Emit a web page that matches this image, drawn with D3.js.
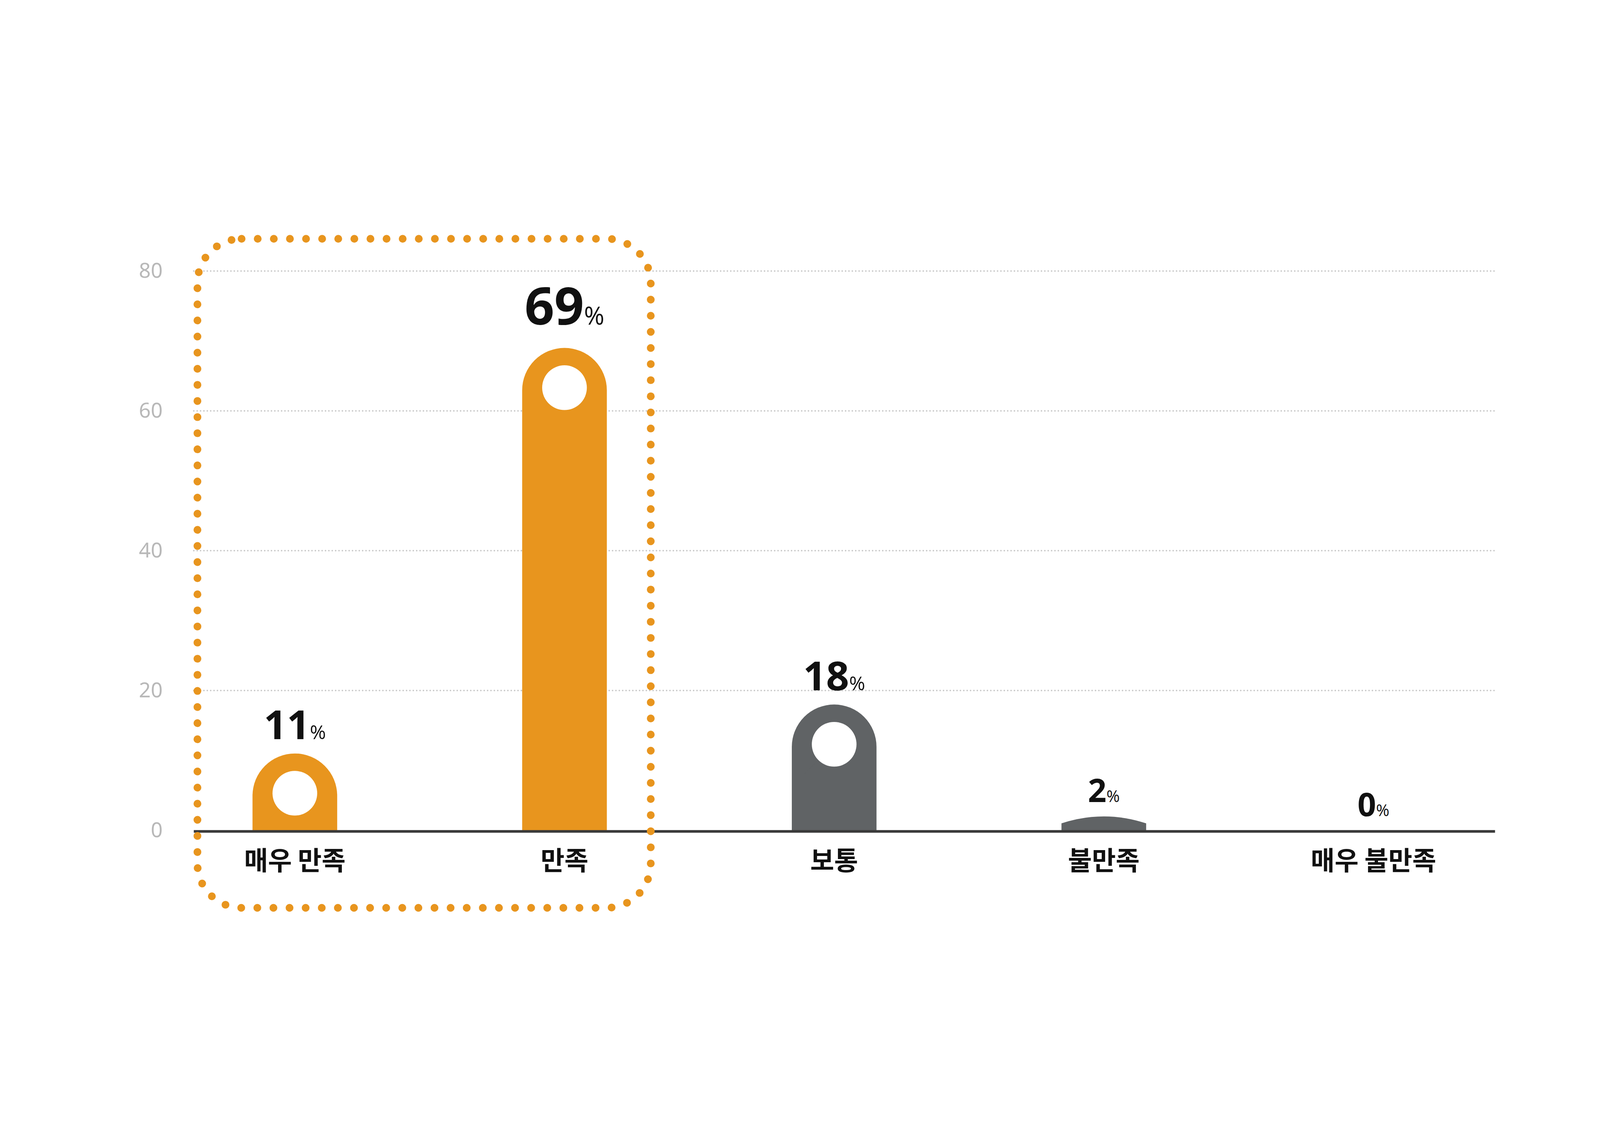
<!DOCTYPE html>
<html>
<head>
<meta charset="utf-8">
<script src="https://cdn.jsdelivr.net/npm/d3@7"></script>
<style>
	html, body { margin: 0; background: #fff; overflow: hidden; }
	svg { display: block; width: 100vw; height: 100vh; font-family: "Noto Sans CJK KR", "Noto Sans", sans-serif; }
</style>
</head>
<body>
<svg id="chart" viewBox="0 0 6159 2895" preserveAspectRatio="xMidYMid meet"></svg>
<script>
// chart data
const categories = ['매우 만족', '만족', '보통', '불만족', '매우 불만족'];
const values = [11, 69, 18, 2, 0];
const highlighted = [true, true, false, false, false];
const yTicks = [0, 20, 40, 60, 80];

const svg = d3.select('#chart');
const orange = '#e8951e';
const grey = '#606365';

const y = d3.scaleLinear().domain([0, 80]).range([2467, 314]);
const x = d3.scalePoint().domain(categories).range([1135, 5287]);
const barW = 326;
const holeR = 86;
const gridX0 = 746, gridX1 = 5755;

// shadow gradient
const grad = svg.append('defs').append('linearGradient')
	.attr('id', 'shade')
	.attr('x1', 1).attr('y1', 0).attr('x2', 0).attr('y2', 1);
grad.append('stop').attr('offset', 0).attr('stop-color', '#000').attr('stop-opacity', 0.22);
grad.append('stop').attr('offset', 1).attr('stop-color', '#000').attr('stop-opacity', 0);

// gridlines
svg.append('g').selectAll('line')
	.data(yTicks.slice(1))
	.join('line')
	.attr('x1', gridX0).attr('x2', gridX1)
	.attr('y1', d => y(d)).attr('y2', d => y(d))
	.attr('stroke', '#c8c8c8')
	.attr('stroke-width', 6)
	.attr('stroke-linecap', 'round')
	.attr('stroke-dasharray', '0 13');

// y axis labels
const yAxis = svg.append('g')
	.attr('transform', `translate(${gridX0 - 120},0)`)
	.call(d3.axisLeft(y).tickValues(yTicks).tickSize(0).tickPadding(0));
yAxis.select('.domain').remove();
yAxis.selectAll('text')
	.attr('font-size', 80)
	.attr('fill', '#b8b8b8')
	.attr('font-family', '"Noto Sans", sans-serif');

// bars
const bars = svg.append('g').selectAll('g')
	.data(categories.map((c, i) => ({ c, v: values[i], hl: highlighted[i], i })))
	.join('g')
	.attr('transform', d => `translate(${x(d.c)},0)`);

function barPath(d) {
	const top = y(d.v);
	const h = y(0) - top;
	const r = barW / 2;
	if (h <= 0) return '';
	if (h < r) {
		// flat dome for tiny values
		return `M${-r},${y(0)} L${-r},${top + h * 0.5} Q0,${top - h * 0.5} ${r},${top + h * 0.5} L${r},${y(0)} Z`;
	}
	return `M${-r},${y(0)} L${-r},${top + r} A${r},${r} 0 0 1 ${r},${top + r} L${r},${y(0)} Z`;
}

bars.append('clipPath')
	.attr('id', d => `clip${d.i}`)
	.append('path')
	.attr('d', barPath);

bars.append('path')
	.attr('d', barPath)
	.attr('fill', d => d.hl ? orange : grey);

const tall = bars.filter(d => y(0) - y(d.v) >= barW / 2);
const holeY = d => y(d.v) + barW / 2 - 10;

// diagonal shadow cast by the hole
tall.append('path')
	.attr('clip-path', d => `url(#clip${d.i})`)
	.attr('d', d => {
		const cy = holeY(d);
		const len = 380;
		return `M${holeR * 0.7},${cy - holeR * 0.7} L${-holeR * 0.7},${cy + holeR * 0.7} L${-holeR * 0.7 - len},${cy + holeR * 0.7 + len} L${holeR * 0.7 - len},${cy - holeR * 0.7 + len} Z`;
	})
	.attr('fill', 'url(#shade)');

tall.append('circle')
	.attr('cy', holeY)
	.attr('r', holeR)
	.attr('fill', '#fff');

// value labels
const maxV = d3.max(values);
const lbl = bars.append('text')
	.attr('text-anchor', 'middle')
	.attr('y', d => y(d.v) - (d.v === maxV ? 90 : 55))
	.attr('font-weight', 700)
	.attr('fill', '#111')
	.attr('font-family', '"Open Sans", "Noto Sans", sans-serif');
lbl.append('tspan')
	.attr('font-size', d => d.v === maxV ? 200 : d.v >= 10 ? 155 : 125)
	.text(d => d.v);
lbl.append('tspan')
	.attr('font-size', d => d.v === maxV ? 95 : d.v >= 10 ? 75 : 62)
	.attr('font-weight', 400)
	.text('%');

// axis line
svg.append('line')
	.attr('x1', gridX0).attr('x2', gridX1)
	.attr('y1', y(0) + 4).attr('y2', y(0) + 4)
	.attr('stroke', '#3a3a3a')
	.attr('stroke-width', 10);

// category labels
svg.append('g').selectAll('text')
	.data(categories)
	.join('text')
	.attr('x', d => x(d))
	.attr('y', 2620)
	.attr('text-anchor', 'middle')
	.attr('font-size', 100)
	.attr('font-weight', 700)
	.attr('fill', '#111')
	.text(d => d);

// dotted highlight box
svg.append('rect')
	.attr('x', 760).attr('y', 190)
	.attr('width', 1745).attr('height', 2575)
	.attr('rx', 170)
	.attr('fill', 'none')
	.attr('stroke', orange)
	.attr('stroke-width', 30)
	.attr('stroke-linecap', 'round')
	.attr('stroke-dasharray', '0 62');
</script>
</body>
</html>
